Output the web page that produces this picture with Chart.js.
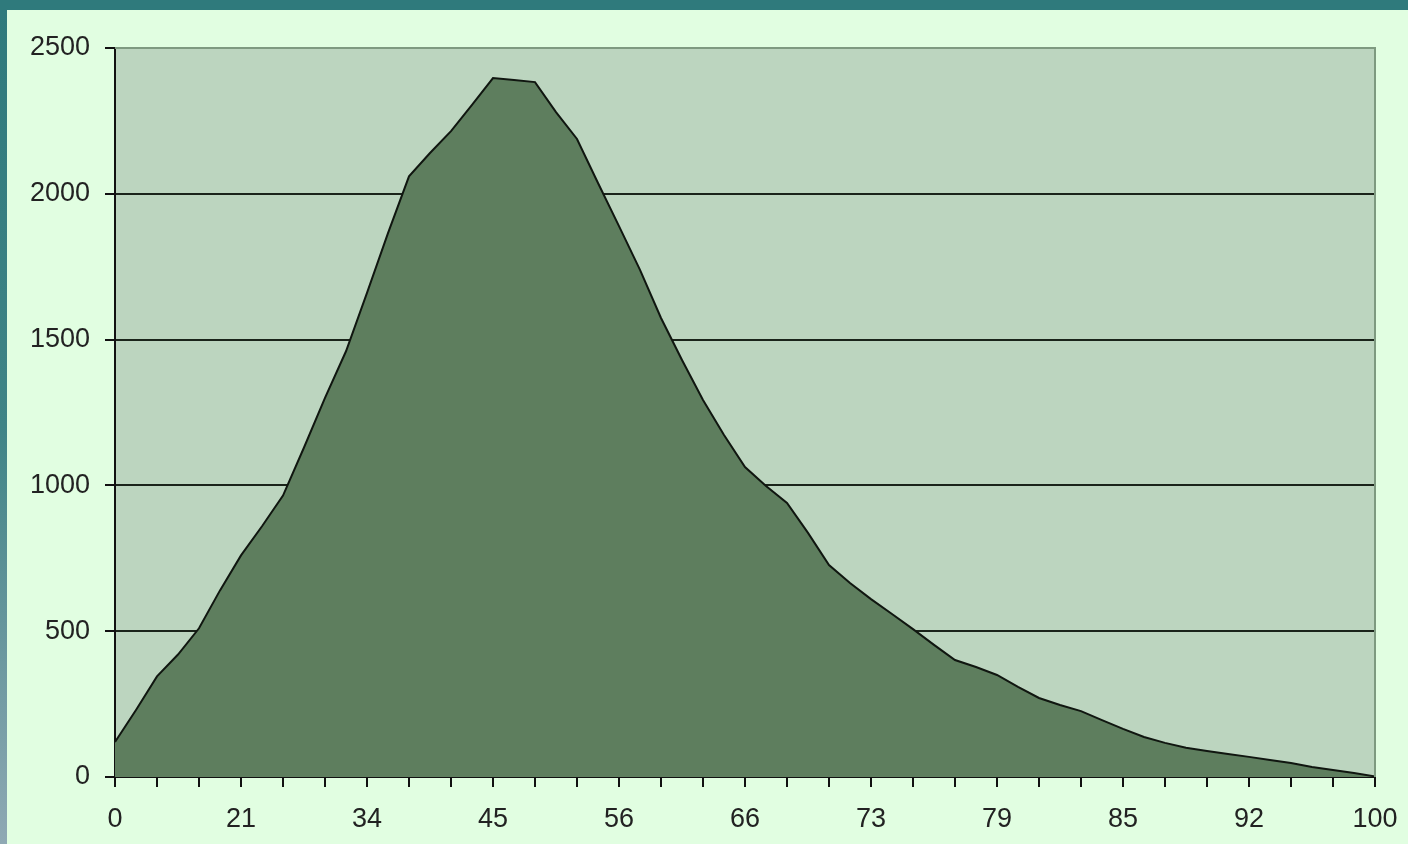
<!DOCTYPE html>
<html>
<head>
<meta charset="utf-8">
<script src="https://cdn.jsdelivr.net/npm/chart.js@4.4.0/dist/chart.umd.min.js"></script>
<style>
  html, body { margin: 0; padding: 0; width: 1408px; height: 844px; overflow: hidden; background: #2F7A7C; }
  #leftstrip { position: absolute; left: 0; top: 10px; width: 7px; height: 834px;
    background: linear-gradient(#2F7A7C 0%, #3F8486 50%, #8FA9B4 100%); }
  #wrap { position: absolute; left: 7px; top: 10px; width: 1401px; height: 834px; background: #E1FEE1; }
</style>
</head>
<body>
<div id="leftstrip"></div>
<div id="wrap"><canvas id="c" width="1401" height="834"></canvas></div>
<script>
// Category labels (only every 6th one is readable in the source)
const categories = [
  '0','','','','','','21','','','','','','34','','','','','','45','','','','','','56','','','','','','66',
  '','','','','','73','','','','','','79','','','','','','85','','','','','','92','','','','','','100'
];
// Series values
const values = [
  120, 230, 345, 420, 510, 640, 760, 860, 965, 1130, 1300, 1460, 1660, 1865, 2060,
  2140, 2215, 2305, 2397, 2390, 2383, 2280, 2188, 2037, 1889, 1739, 1574, 1430, 1293, 1173,
  1063, 998, 940, 837, 727, 665, 610, 559, 507, 453, 401, 377, 350, 309, 271,
  247, 226, 195, 165, 137, 117, 100, 89, 79, 69, 58, 48, 34, 24, 14, 2
];
const yTicks = [0, 500, 1000, 1500, 2000, 2500];

const plotBg = {
  id: 'plotBg',
  beforeDraw(chart) {
    const {ctx, chartArea: a} = chart;
    ctx.save();
    ctx.fillStyle = '#BCD5BF';
    ctx.fillRect(a.left, a.top, a.right - a.left, a.bottom - a.top);
    ctx.restore();
  },
  afterDraw(chart) {
    const {ctx, chartArea: a} = chart;
    ctx.save();
    ctx.strokeStyle = '#7E9A80';
    ctx.lineWidth = 2;
    ctx.beginPath();
    ctx.moveTo(a.left, a.top);
    ctx.lineTo(a.right, a.top);
    ctx.lineTo(a.right, a.bottom);
    ctx.stroke();
    ctx.restore();
  }
};

const font = { family: 'Liberation Sans', size: 27 };

new Chart(document.getElementById('c'), {
  type: 'line',
  data: {
    labels: categories,
    datasets: [{
      data: values,
      fill: 'origin',
      backgroundColor: '#5E7E5E',
      borderColor: '#101610',
      borderWidth: 2,
      pointRadius: 0,
      tension: 0
    }]
  },
  options: {
    responsive: false,
    animation: false,
    devicePixelRatio: 1,
    plugins: { legend: { display: false }, tooltip: { enabled: false } },
    layout: { padding: { left: 0, top: 38, right: 33, bottom: 0 } },
    scales: {
      x: {
        type: 'category',
        offset: false,
        grid: { drawOnChartArea: false, drawTicks: true, tickLength: 10, tickColor: '#111', tickWidth: 2, lineWidth: 2 },
        border: { display: true, color: '#111', width: 2 },
        ticks: {
          autoSkip: false,
          maxRotation: 0,
          minRotation: 0,
          padding: 16,
          color: '#222',
          font: font,
          callback: function(v, i) { return (i % 2 === 0) ? categories[i] : null; }
        },
        afterFit(s) { s.height = 67; s.paddingLeft = 0; s.paddingRight = 0; }
      },
      y: {
        min: 0,
        max: 2500,
        afterBuildTicks(s) { s.ticks = yTicks.map(v => ({ value: v })); },
        grid: {
          drawTicks: true,
          tickLength: 10,
          tickColor: '#111',
          tickWidth: 2,
          lineWidth: 2,
          color: (c) => (c.tick && c.tick.value === 2500) ? 'rgba(0,0,0,0)' : '#1a241a'
        },
        border: { display: true, color: '#111', width: 2 },
        ticks: {
          padding: 15,
          color: '#222',
          font: font,
          callback: (v) => String(v)
        },
        afterFit(s) { s.width = 108; s.paddingTop = 0; s.paddingBottom = 0; }
      }
    }
  },
  plugins: [plotBg]
});
</script>
</body>
</html>
